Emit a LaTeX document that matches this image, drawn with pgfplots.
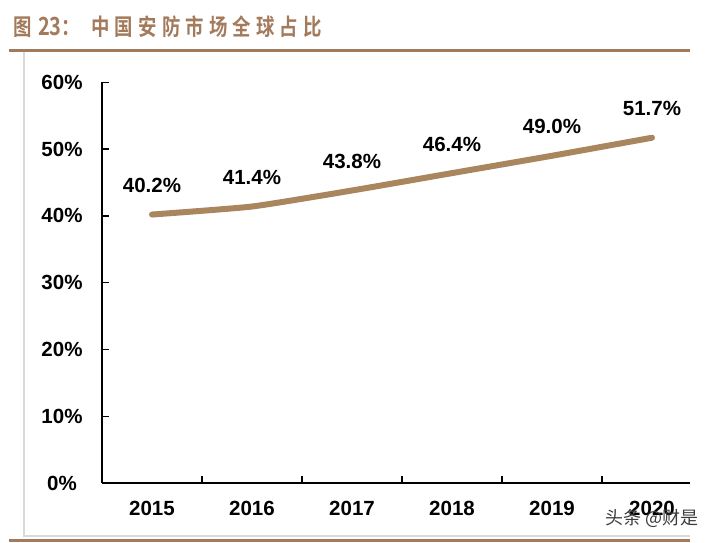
\documentclass[border=0pt]{standalone}
\usepackage{pgfplots}
\pgfplotsset{compat=1.18}
\usepackage{graphicx}
\usepackage{fontspec}
\setmainfont{Liberation Sans}
\newfontfamily\cjk[BoldFont=* Bold]{Noto Sans CJK SC}
\newfontfamily\cjktitle[LetterSpace=28]{Noto Sans CJK SC Bold}
\newfontfamily\cjktitlenum{Noto Sans CJK SC Bold}
\definecolor{titlebrown}{RGB}{164,122,92}
\definecolor{linetan}{RGB}{170,134,94}
\definecolor{framegray}{RGB}{217,217,217}
\definecolor{wmgray}{RGB}{60,60,60}
\begin{document}
\begin{tikzpicture}
\path[use as bounding box] (0,0) rectangle (357.5bp,271.5bp);
% frame and rules
\draw[line width=1bp, draw=framegray] (12bp,245.5bp) -- (12bp,3.5bp) -- (345bp,3.5bp);
\draw[line width=1.4bp, draw=titlebrown] (4.5bp,246.3bp) -- (345bp,246.3bp);
\draw[line width=1.5bp, draw=titlebrown] (4.5bp,1.4bp) -- (345bp,1.4bp);
\node[anchor=west, inner sep=0pt, text=titlebrown] at (6.5bp,258bp)
  {\scalebox{0.8}[1]{\fontsize{11.5bp}{13bp}\cjktitle 图\hspace{4bp}{\fontsize{12.5bp}{13bp}\cjktitlenum 23}：\hspace{7bp}中国安防市场全球占比}};
\begin{axis}[
    at={(51bp,30bp)}, anchor=south west,
    scale only axis,
    width=294bp, height=200.35bp,
    xmin=-0.5, xmax=5.38,
    ymin=0, ymax=60,
    axis x line*=bottom, axis y line*=left,
    axis line style={black, line width=0.7bp},
    xtick={0,1,2,3,4,5},
    xticklabels={2015,2016,2017,2018,2019,2020},
    minor xtick={0.5,1.5,2.5,3.5,4.5},
    major x tick style={draw=none},
    ytick={0,10,20,30,40,50,60},
    yticklabels={0\%,10\%,20\%,30\%,40\%,50\%,60\%},
    tick align=inside,
    major tick length=3.5bp, minor tick length=3.5bp,
    tick style={black, line width=0.7bp},
    tick label style={font=\fontsize{10.25bp}{12bp}\selectfont\bfseries},
    yticklabel style={anchor=center, inner sep=0pt, xshift=-20bp},
    xticklabel style={anchor=center, inner sep=0pt, yshift=-12.5bp},
    /pgf/number format/assume math mode=true,
    clip=false,
  ]
  \addplot[linetan, line width=3bp, line cap=round, smooth, tension=0.3,
    nodes near coords={\pgfmathprintnumber[fixed,fixed zerofill,precision=1]{\pgfplotspointmeta}\%},
    every node near coord/.append style={anchor=center, inner sep=0pt, yshift=14.5bp,
      text=black, font=\fontsize{10.25bp}{12bp}\selectfont\bfseries},
  ] coordinates {
    (0,40.2) (1,41.4) (2,43.8) (3,46.4) (4,49.0) (5,51.7)
  };
\end{axis}
\node[anchor=west, inner sep=0pt, text=wmgray] at (302.5bp,12.5bp)
  {\fontsize{9bp}{10bp}\cjk 头条 @财是};
\end{tikzpicture}
\end{document}
